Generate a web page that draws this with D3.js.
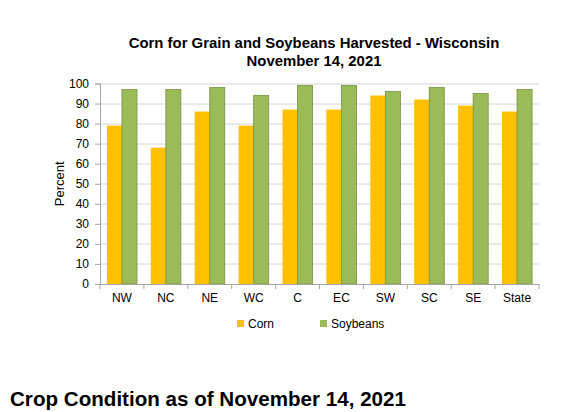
<!DOCTYPE html>
<html>
<head>
<meta charset="utf-8">
<script src="https://cdn.jsdelivr.net/npm/d3@7"></script>
<style>
  body { margin: 0; background: #fff; }
  text { font-family: "Liberation Sans", Arial, sans-serif; fill: #000; }
</style>
</head>
<body>
<div id="chart"></div>
<script>
const districts = ["NW", "NC", "NE", "WC", "C", "EC", "SW", "SC", "SE", "State"];
const corn = [79, 68, 86, 79, 87, 87, 94, 92, 89, 86];
const soybeans = [97, 97, 98, 94, 99, 99, 96, 98, 95, 97];
const yTicks = [0, 10, 20, 30, 40, 50, 60, 70, 80, 90, 100];

const series = [
  { name: "Corn", values: corn, fill: "#FFC000", stroke: "none" },
  { name: "Soybeans", values: soybeans, fill: "#9BBB59", stroke: "#76923C" }
];

const W = 564, H = 412;
const m = { top: 83.5, left: 100, right: 25, bottom: 128 };
const iw = W - m.left - m.right;
const ih = H - m.top - m.bottom;

const svg = d3.select("#chart").append("svg")
  .attr("width", W).attr("height", H);

// titles
svg.append("text")
  .attr("x", 314).attr("y", 48)
  .attr("text-anchor", "middle")
  .style("font-size", "14.9px").style("font-weight", "bold")
  .text("Corn for Grain and Soybeans Harvested - Wisconsin");
svg.append("text")
  .attr("x", 314).attr("y", 66)
  .attr("text-anchor", "middle")
  .style("font-size", "14.9px").style("font-weight", "bold")
  .text("November 14, 2021");

const g = svg.append("g").attr("transform", `translate(${m.left},${m.top})`);

const x = d3.scaleBand().domain(districts).range([0, iw]).paddingInner(0).paddingOuter(0);
const inner = d3.scaleBand().domain(series.map(s => s.name))
  .range([0, x.bandwidth()]).paddingInner(0).paddingOuter(0.46);
const y = d3.scaleLinear().domain([0, 100]).range([ih, 0]);

// gridlines
g.selectAll(".grid")
  .data(yTicks.filter(t => t > 0))
  .enter().append("line")
  .attr("x1", 0).attr("x2", iw)
  .attr("y1", d => Math.round(y(d)) + 0.5).attr("y2", d => Math.round(y(d)) + 0.5)
  .attr("stroke", "#d4d4d4");

// bars
series.forEach(s => {
  g.selectAll(null)
    .data(s.values)
    .enter().append("rect")
    .attr("x", (d, i) => x(districts[i]) + inner(s.name))
    .attr("y", d => y(d))
    .attr("width", inner.bandwidth())
    .attr("height", d => ih - y(d))
    .attr("fill", s.fill)
    .attr("stroke", s.stroke)
    .attr("stroke-width", 0.8);
});

// y axis
const yAxis = g.append("g")
  .call(d3.axisLeft(y).tickValues(yTicks).tickSize(5).tickPadding(6));
yAxis.select(".domain").attr("stroke", "#a6a6a6");
yAxis.selectAll(".tick line").attr("stroke", "#a6a6a6");
yAxis.selectAll("text").style("font-size", "12px").style("font-family", "Liberation Sans, Arial, sans-serif");

// x axis
const xAxis = g.append("g").attr("transform", `translate(0,${ih})`)
  .call(d3.axisBottom(x).tickSize(0).tickPadding(9));
xAxis.select(".domain").attr("stroke", "#a6a6a6");
xAxis.selectAll("text").style("font-size", "12px").style("font-family", "Liberation Sans, Arial, sans-serif");
g.selectAll(".xsep")
  .data(districts.concat(["end"]))
  .enter().append("line")
  .attr("x1", (d, i) => i * x.step()).attr("x2", (d, i) => i * x.step())
  .attr("y1", ih).attr("y2", ih + 5)
  .attr("stroke", "#a6a6a6");

// y label
svg.append("text")
  .attr("transform", `translate(64,${m.top + ih / 2}) rotate(-90)`)
  .attr("text-anchor", "middle")
  .style("font-size", "13px")
  .text("Percent");

// legend
const legendX = [237, 320];
series.forEach((s, i) => {
  svg.append("rect")
    .attr("x", legendX[i]).attr("y", 320)
    .attr("width", 7).attr("height", 7)
    .attr("fill", s.fill);
  svg.append("text")
    .attr("x", legendX[i] + 11).attr("y", 328)
    .style("font-size", "12px")
    .text(s.name);
});

// next section heading
svg.append("text")
  .attr("x", 10).attr("y", 406)
  .style("font-size", "20.6px").style("font-weight", "bold")
  .text("Crop Condition as of November 14, 2021");
</script>
</body>
</html>
